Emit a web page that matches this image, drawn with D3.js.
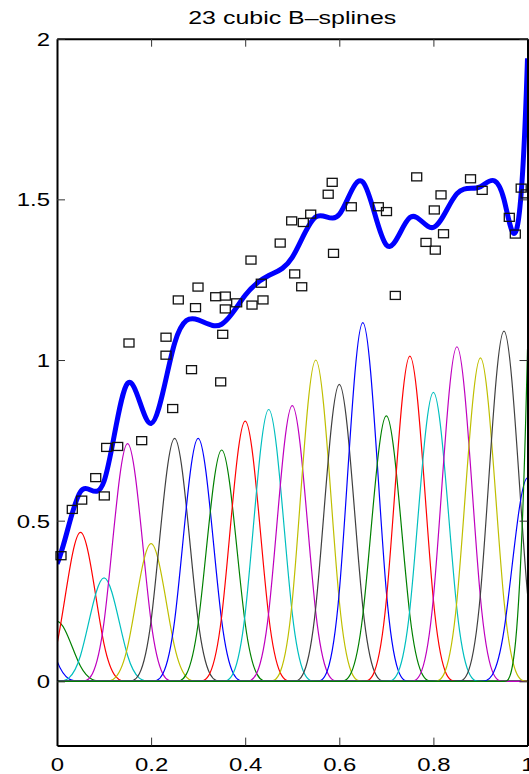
<!DOCTYPE html>
<html>
<head>
<meta charset="utf-8">
<script src="https://cdn.jsdelivr.net/npm/d3@7"></script>
<style>
  body { margin: 0; background: #fff; }
  svg { display: block; font-family: "Liberation Sans", Arial, sans-serif; }
</style>
</head>
<body>
<svg id="chart" width="529" height="774"></svg>
<script>
// knot centres of the 23 cubic B-splines
const centers = [-0.05, 0, 0.05, 0.1, 0.15, 0.2, 0.25, 0.3, 0.35, 0.4, 0.45, 0.5,
  0.55, 0.6, 0.65, 0.7, 0.75, 0.8, 0.85, 0.9, 0.95, 1.0, 1.05];
// spline coefficients (1.5 x the peak height of each drawn basis function)
const coefs = [0.38, 0.28, 0.695, 0.483, 1.11, 0.643, 1.134, 1.134, 1.08, 1.215,
  1.269, 1.287, 1.5, 1.386, 1.675, 1.239, 1.518, 1.349, 1.562, 1.51, 1.635, 0.95, 6.2];
const basisColors = ["#0000ff", "#008000", "#ff0000", "#00bfbf", "#bf00bf", "#bfbf00", "#404040"];

// noisy samples (square markers)
const pointsX = [0.0085, 0.0325, 0.0525, 0.0823, 0.1005, 0.1056, 0.129, 0.153, 0.18,
  0.2317, 0.2317, 0.2459, 0.2578, 0.2859, 0.2944, 0.2997, 0.3373, 0.3479, 0.3522,
  0.3577, 0.3577, 0.3819, 0.4123, 0.4145, 0.4342, 0.4378, 0.4744, 0.4988, 0.5052,
  0.5201, 0.5235, 0.5392, 0.5764, 0.5849, 0.5877, 0.6255, 0.6829, 0.7003, 0.719,
  0.7645, 0.7843, 0.8019, 0.804, 0.8162, 0.8215, 0.8789, 0.9037, 0.9613, 0.9741,
  0.9866, 0.997];
const pointsY = [0.391, 0.535, 0.564, 0.634, 0.577, 0.728, 0.731, 1.053, 0.749,
  1.071, 1.015, 0.849, 1.187, 0.97, 1.163, 1.227, 1.197, 0.932, 1.08,
  1.199, 1.159, 1.178, 1.311, 1.171, 1.239, 1.187, 1.364, 1.433, 1.268,
  1.228, 1.428, 1.454, 1.516, 1.553, 1.332, 1.477, 1.477, 1.462, 1.201,
  1.57, 1.366, 1.467, 1.342, 1.514, 1.393, 1.564, 1.528, 1.444, 1.392,
  1.535, 1.517];

const xTicks = [0, 0.2, 0.4, 0.6, 0.8, 1];
const yTicks = [0, 0.5, 1, 1.5, 2];
const titleText = "23 cubic B\u2013splines";

const svg = d3.select("#chart");
const boxLeft = 57, boxRight = 527.5, boxTop = 38.7, boxBottom = 745.6;

const xScale = d3.scaleLinear().domain([0, 1]).range([boxLeft, boxRight]);
const yScale = d3.scaleLinear().domain([-0.2, 2]).range([boxBottom, boxTop]);

svg.append("defs").append("clipPath").attr("id", "box")
  .append("rect")
  .attr("x", boxLeft).attr("y", boxTop)
  .attr("width", boxRight - boxLeft).attr("height", boxBottom - boxTop);

const spline = d3.line()
  .x((d) => xScale(d[0]))
  .y((d) => yScale(d[1]))
  .curve(d3.curveBasis);

// keep only the spline pieces between x = 0 and x = 1
// (curveBasis adds run-in / run-out pieces towards the first and last control point)
const splineInBox = (data) => {
  const p = d3.path();
  let n = 0;
  spline.context({
    moveTo() {}, lineTo() {}, closePath() {},
    bezierCurveTo(a, b, c, d, e, f) {
      n++;
      if (n === 1) p.moveTo(e, f);
      else if (n <= data.length - 2) p.bezierCurveTo(a, b, c, d, e, f);
    },
  })(data);
  spline.context(null);
  return p.toString();
};

const plot = svg.append("g").attr("clip-path", "url(#box)");

// each scaled basis function
centers.forEach((c, j) => {
  plot.append("path")
    .attr("d", splineInBox(centers.map((cc, i) => [cc, i === j ? coefs[j] : 0])))
    .attr("fill", "none")
    .attr("stroke", basisColors[j % basisColors.length])
    .attr("stroke-width", 1.2);
});

// data squares
svg.append("g")
  .selectAll("rect")
  .data(pointsX.map((px, i) => [px, pointsY[i]]))
  .enter()
  .append("rect")
  .attr("x", (d) => xScale(d[0]) - 5)
  .attr("y", (d) => yScale(d[1]) - 4)
  .attr("width", 10)
  .attr("height", 8)
  .attr("fill", "none")
  .attr("stroke", "#111")
  .attr("stroke-width", 1.3);

// the fitted spline (sum of all basis functions)
plot.append("path")
  .attr("d", splineInBox(centers.map((c, i) => [c, coefs[i]])))
  .attr("fill", "none")
  .attr("stroke", "#0000ff")
  .attr("stroke-width", 5)
  .attr("stroke-linejoin", "round");

// axes box, MATLAB style inward ticks
const fmt = (d) => String(d);
const gx = svg.append("g").attr("transform", `translate(0,${boxBottom})`)
  .call(d3.axisBottom(xScale).tickValues(xTicks).tickFormat(fmt).tickSize(-8).tickSizeOuter(0));
const gxTop = svg.append("g").attr("transform", `translate(0,${boxTop})`)
  .call(d3.axisTop(xScale).tickValues(xTicks).tickFormat("").tickSize(-8).tickSizeOuter(0));
const gy = svg.append("g").attr("transform", `translate(${boxLeft},0)`)
  .call(d3.axisLeft(yScale).tickValues(yTicks).tickFormat(fmt).tickSize(-8).tickSizeOuter(0));
const gyRight = svg.append("g").attr("transform", `translate(${boxRight},0)`)
  .call(d3.axisRight(yScale).tickValues(yTicks).tickFormat("").tickSize(-8).tickSizeOuter(0));

[gx, gxTop, gy, gyRight].forEach((g) => {
  g.select(".domain").attr("stroke", "#000").attr("stroke-width", 2);
  g.selectAll(".tick line").attr("stroke", "#333").attr("stroke-width", 1);
});

gx.selectAll(".tick text")
  .attr("y", 0).attr("dy", null)
  .attr("transform", "translate(0,25) scale(1.33,1)")
  .attr("font-size", 18).attr("fill", "#000")
  .attr("font-family", "Liberation Sans, Arial, sans-serif");

gy.selectAll(".tick text")
  .attr("x", 0).attr("dy", "0.36em")
  .attr("transform", "translate(-7,0) scale(1.33,1)")
  .attr("font-size", 18).attr("fill", "#000")
  .attr("font-family", "Liberation Sans, Arial, sans-serif");

svg.append("text")
  .attr("x", (boxLeft + boxRight) / 2)
  .attr("y", 23.5)
  .attr("text-anchor", "middle")
  .attr("font-size", 19)
  .attr("textLength", 208)
  .attr("lengthAdjust", "spacingAndGlyphs")
  .text(titleText);
</script>
</body>
</html>
